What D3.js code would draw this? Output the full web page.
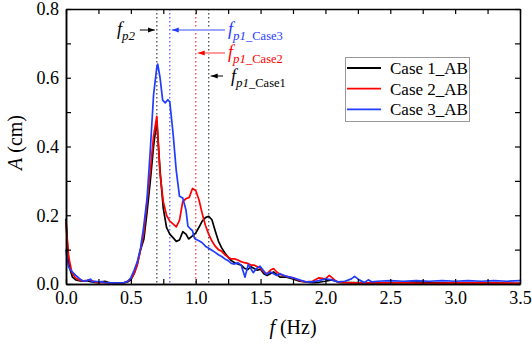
<!DOCTYPE html>
<html><head><meta charset="utf-8">
<script src="https://cdn.jsdelivr.net/npm/d3@7"></script>
<style>
body{margin:0;background:#fff}
svg{display:block}
text{font-family:"Liberation Serif","Times New Roman",Times,Tinos,"DejaVu Serif","Noto Serif",serif;fill:#000}
</style>
</head><body>
<svg id="c" width="532" height="345"></svg>
<script>
// ---- data ----
const seriesNames = ["Case 1_AB", "Case 2_AB", "Case 3_AB"];
const seriesColors = ["#000000", "#ff0000", "#1f3cff"];
const case1 = [[0,0.19],[0.01,0.12],[0.025,0.05],[0.05,0.02],[0.075,0.012],[0.1,0.01],[0.125,0.008],[0.15,0.01],[0.175,0.008],[0.2,0.006],[0.225,0.005],[0.25,0.004],[0.275,0.006],[0.3,0.008],[0.325,0.005],[0.35,0.003],[0.375,0.002],[0.4,0.002],[0.425,0.003],[0.45,0.004],[0.475,0.006],[0.5,0.012],[0.525,0.03],[0.55,0.06],[0.575,0.1],[0.6,0.13],[0.625,0.21],[0.65,0.3],[0.675,0.4],[0.7,0.475],[0.725,0.33],[0.75,0.22],[0.775,0.165],[0.8,0.145],[0.825,0.135],[0.85,0.124],[0.875,0.128],[0.9,0.152],[0.925,0.145],[0.945,0.131],[0.975,0.14],[1.0,0.148],[1.025,0.165],[1.05,0.183],[1.075,0.193],[1.1,0.197],[1.125,0.187],[1.15,0.155],[1.175,0.125],[1.2,0.105],[1.225,0.09],[1.25,0.078],[1.275,0.068],[1.3,0.062],[1.325,0.058],[1.35,0.055],[1.375,0.046],[1.4,0.042],[1.425,0.05],[1.45,0.045],[1.475,0.04],[1.5,0.043],[1.525,0.03],[1.55,0.025],[1.6,0.035],[1.65,0.02],[1.7,0.02],[1.75,0.015],[1.8,0.008],[1.85,0.006],[1.9,0.004],[1.95,0.005],[2.0,0.008],[2.05,0.012],[2.1,0.005],[2.2,0.004],[2.3,0.003],[2.4,0.003],[2.5,0.004],[2.6,0.004],[2.7,0.006],[2.8,0.004],[2.9,0.003],[3.0,0.003],[3.1,0.004],[3.2,0.003],[3.3,0.003],[3.4,0.002],[3.5,0.002]];
const case2 = [[0,0.18],[0.01,0.13],[0.02,0.08],[0.046,0.033],[0.072,0.018],[0.1,0.012],[0.125,0.01],[0.15,0.008],[0.175,0.012],[0.2,0.01],[0.225,0.006],[0.25,0.004],[0.3,0.004],[0.35,0.003],[0.4,0.002],[0.45,0.004],[0.475,0.008],[0.5,0.015],[0.525,0.03],[0.55,0.055],[0.575,0.1],[0.6,0.15],[0.625,0.24],[0.65,0.33],[0.675,0.43],[0.7,0.488],[0.725,0.32],[0.75,0.24],[0.775,0.2],[0.8,0.183],[0.825,0.175],[0.85,0.166],[0.875,0.185],[0.9,0.24],[0.925,0.248],[0.95,0.252],[0.975,0.278],[1.0,0.272],[1.025,0.245],[1.05,0.205],[1.075,0.17],[1.1,0.145],[1.125,0.125],[1.15,0.11],[1.175,0.1],[1.2,0.095],[1.225,0.085],[1.25,0.078],[1.275,0.073],[1.3,0.073],[1.325,0.07],[1.35,0.065],[1.375,0.062],[1.4,0.06],[1.425,0.055],[1.45,0.055],[1.475,0.05],[1.5,0.045],[1.525,0.035],[1.55,0.03],[1.575,0.04],[1.6,0.045],[1.625,0.035],[1.65,0.028],[1.7,0.022],[1.75,0.018],[1.8,0.01],[1.85,0.006],[1.9,0.008],[1.95,0.018],[2.0,0.015],[2.03,0.025],[2.07,0.012],[2.1,0.005],[2.2,0.003],[2.4,0.003],[2.6,0.003],[2.8,0.002],[3.0,0.003],[3.2,0.003],[3.5,0.002]];
const case3 = [[0,0.1],[0.01,0.07],[0.02,0.05],[0.033,0.042],[0.05,0.035],[0.075,0.025],[0.1,0.017],[0.125,0.01],[0.15,0.008],[0.175,0.012],[0.19,0.014],[0.2,0.006],[0.225,0.008],[0.25,0.006],[0.275,0.007],[0.3,0.004],[0.35,0.003],[0.4,0.003],[0.45,0.004],[0.475,0.008],[0.5,0.018],[0.525,0.04],[0.55,0.065],[0.575,0.105],[0.6,0.17],[0.625,0.25],[0.65,0.39],[0.675,0.55],[0.7,0.63],[0.707,0.64],[0.725,0.6],[0.745,0.535],[0.765,0.527],[0.785,0.536],[0.8,0.53],[0.825,0.44],[0.85,0.33],[0.875,0.255],[0.9,0.25],[0.925,0.215],[0.94,0.168],[0.96,0.16],[0.975,0.155],[0.99,0.134],[1.0,0.13],[1.025,0.126],[1.05,0.12],[1.075,0.11],[1.1,0.104],[1.125,0.098],[1.15,0.092],[1.175,0.085],[1.2,0.08],[1.225,0.073],[1.25,0.068],[1.275,0.06],[1.3,0.058],[1.325,0.062],[1.35,0.055],[1.38,0.02],[1.405,0.057],[1.425,0.045],[1.443,0.033],[1.47,0.045],[1.495,0.052],[1.52,0.04],[1.546,0.028],[1.575,0.035],[1.6,0.03],[1.625,0.025],[1.65,0.03],[1.7,0.022],[1.75,0.018],[1.8,0.012],[1.85,0.006],[1.9,0.006],[1.95,0.01],[2.0,0.015],[2.05,0.012],[2.1,0.006],[2.15,0.008],[2.2,0.015],[2.225,0.022],[2.26,0.012],[2.3,0.004],[2.33,0.012],[2.36,0.006],[2.4,0.008],[2.5,0.01],[2.6,0.008],[2.7,0.01],[2.8,0.008],[2.9,0.01],[3.0,0.008],[3.1,0.01],[3.2,0.008],[3.3,0.01],[3.4,0.008],[3.5,0.01]];
const xTickLabels = [0, 0.5, 1.0, 1.5, 2.0, 2.5, 3.0, 3.5];
const xMinorTicks = [0.25, 0.75, 1.25, 1.75, 2.25, 2.75, 3.25];
const yTickLabels = [0, 0.2, 0.4, 0.6, 0.8];
const yMinorTicks = [0.1, 0.3, 0.5, 0.7];
const refFreqs = [0.7, 0.8, 1.0, 1.1];
const refColors = ["#555555", "#6a6aff", "#ff5050", "#555555"];
const refLabels = [
  {sub: "p2", tail: "", color: "#000"},
  {sub: "p1", tail: "_Case3", color: "#1f3cff"},
  {sub: "p1", tail: "_Case2", color: "#ff0000"},
  {sub: "p1", tail: "_Case1", color: "#000"}
];

// ---- layout ----
const FONT = '"Liberation Serif","Times New Roman",Times,Tinos,"DejaVu Serif","Noto Serif",serif';
const M = {l: 66, r: 520, t: 9, b: 284};
const svg = d3.select("#c");
const x = d3.scaleLinear().domain([0, 3.5]).range([M.l, M.r]);
const y = d3.scaleLinear().domain([0, 0.8]).range([M.b, M.t]);

// reference dotted lines
svg.append("g").selectAll("line").data(refFreqs).join("line")
  .attr("x1", d => x(d)).attr("x2", d => x(d))
  .attr("y1", y(0.8)).attr("y2", y(0))
  .attr("stroke", (d, i) => refColors[i]).attr("stroke-width", 1.4)
  .attr("stroke-dasharray", "1.4,2.6");

// curves
const line = d3.line().x(d => x(d[0])).y(d => y(d[1]));
const allSeries = [case1, case2, case3];
svg.append("g").selectAll("path").data(allSeries).join("path")
  .attr("d", line).attr("fill", "none")
  .attr("stroke", (d, i) => seriesColors[i]).attr("stroke-width", 1.7)
  .attr("stroke-linejoin", "round");

// axes
const fmt = d3.format(".1f");
function styleAxis(g) {
  g.attr("font-family", null);
  g.select(".domain").attr("stroke", "#000").attr("stroke-width", 1.5);
  g.selectAll(".tick line").attr("stroke", "#000").attr("stroke-width", 1.2);
  g.selectAll("text").style("font-family", FONT).style("font-size", "18px").attr("fill", "#000");
}
svg.append("g").attr("transform", `translate(0,${M.b})`)
  .call(d3.axisBottom(x).tickValues(xTickLabels).tickFormat(fmt).tickSizeInner(-5).tickSizeOuter(0).tickPadding(7)).call(styleAxis);
svg.append("g").attr("transform", `translate(0,${M.b})`)
  .call(d3.axisBottom(x).tickValues(xMinorTicks).tickFormat("").tickSizeInner(-5).tickSizeOuter(0)).call(styleAxis);
svg.append("g").attr("transform", `translate(0,${M.t})`)
  .call(d3.axisTop(x).tickValues(xTickLabels.concat(xMinorTicks)).tickFormat("").tickSizeInner(-5).tickSizeOuter(0)).call(styleAxis);
svg.append("g").attr("transform", `translate(${M.l},0)`)
  .call(d3.axisLeft(y).tickValues(yTickLabels).tickFormat(fmt).tickSizeInner(-5).tickSizeOuter(0).tickPadding(7)).call(styleAxis);
svg.append("g").attr("transform", `translate(${M.l},0)`)
  .call(d3.axisLeft(y).tickValues(yMinorTicks).tickFormat("").tickSizeInner(-5).tickSizeOuter(0)).call(styleAxis);
svg.append("g").attr("transform", `translate(${M.r},0)`)
  .call(d3.axisRight(y).tickValues(yTickLabels.concat(yMinorTicks)).tickFormat("").tickSizeInner(-5).tickSizeOuter(0)).call(styleAxis);

// axis titles
const xt = svg.append("text").attr("x", (M.l + M.r) / 2).attr("y", 334)
  .attr("text-anchor", "middle").style("font-family", FONT).style("font-size", "20px");
xt.append("tspan").style("font-style", "italic").text("f");
xt.append("tspan").text(" (Hz)");
const yt = svg.append("text").attr("transform", `translate(22,${(M.t + M.b) / 2 - 4}) rotate(-90)`)
  .attr("text-anchor", "middle").style("font-family", FONT).style("font-size", "20px");
yt.append("tspan").style("font-style", "italic").text("A");
yt.append("tspan").text(" (cm)");

// annotations (arrows + labels)
const defs = svg.append("defs");
[["#000", "ah0"], ["#1f3cff", "ah1"], ["#ff0000", "ah2"]].forEach(([c, id]) => {
  defs.append("marker").attr("id", id).attr("viewBox", "0 0 10 10").attr("refX", 10).attr("refY", 5)
    .attr("markerWidth", 7).attr("markerHeight", 7).attr("markerUnits", "userSpaceOnUse").attr("orient", "auto")
    .append("path").attr("d", "M0,1.5 L10,5 L0,8.5 Z").attr("fill", c);
});
const ann = [
  {i: 0, x1: x(0.7) - 17, y: 30, tip: x(0.7) - 2, tx: 117, ty: 35, lc: "#000", m: "ah0", lw: 1},
  {i: 1, x1: 225, y: 30, tip: x(0.8) + 2, tx: 228, ty: 35, lc: "#9aa6ff", m: "ah1", lw: 2},
  {i: 2, x1: 225, y: 53, tip: x(1.0) + 2, tx: 228, ty: 58, lc: "#ff9a9a", m: "ah2", lw: 2},
  {i: 3, x1: 223, y: 76, tip: x(1.1) + 2, tx: 231, ty: 82, lc: "#000", m: "ah0", lw: 1}
];
ann.forEach(a => {
  svg.append("line").attr("x1", a.x1).attr("x2", a.tip).attr("y1", a.y).attr("y2", a.y)
    .attr("stroke", a.lc).attr("stroke-width", a.lw).attr("marker-end", `url(#${a.m})`);
  const lab = refLabels[a.i];
  const t = svg.append("text").attr("x", a.tx).attr("y", a.ty).style("font-family", FONT).style("font-size", "18px");
  t.append("tspan").style("font-style", "italic").attr("fill", lab.color).text("f");
  t.append("tspan").attr("dy", 5).style("font-style", "italic").style("font-size", "13px").attr("fill", lab.color).text(lab.sub);
  if (lab.tail) t.append("tspan").style("font-size", "12.5px").attr("fill", lab.color).text(lab.tail);
});

// legend
const lg = svg.append("g");
lg.append("rect").attr("x", 345.5).attr("y", 57.5).attr("width", 124).attr("height", 64)
  .attr("fill", "#fff").attr("stroke", "#999").attr("stroke-width", 1);
seriesNames.forEach((n, i) => {
  const yy = 68 + i * 20.7;
  lg.append("line").attr("x1", 347).attr("x2", 381).attr("y1", yy).attr("y2", yy)
    .attr("stroke", seriesColors[i]).attr("stroke-width", 1.8);
  lg.append("text").attr("x", 390).attr("y", yy + 6).style("font-family", FONT).style("font-size", "17px").text(n);
});
</script>
</body></html>
